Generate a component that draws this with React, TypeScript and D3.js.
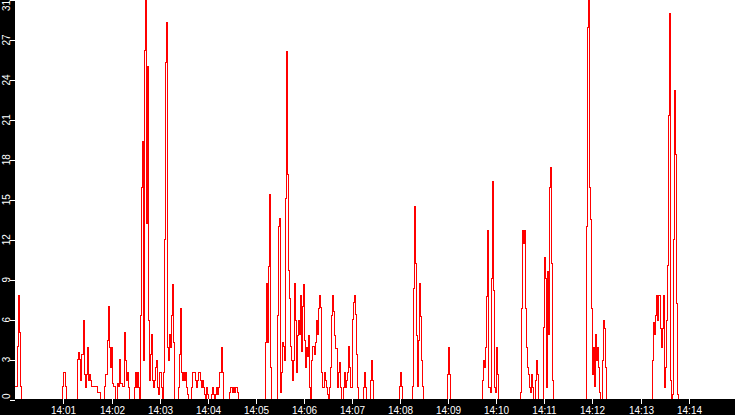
import React from "react";
import * as d3 from "d3";

const WIDTH = 735;
const HEIGHT = 415;

// Sampling: one value every 1.25 s, 14:00:00 to 14:15:00
const SAMPLE_SECONDS = 1.25;
const TOTAL_SAMPLES = 720;
const START_TIME = new Date(2020, 0, 1, 14, 0, 0);
const END_TIME = new Date(2020, 0, 1, 14, 15, 0);

// Bursts of activity: start sample index + values (everything else is 0)
const burstA = [1, 1, 4, 7.8, 5, 1];
const burstB = [1, 2, 2, 1];
const burstC = [3, 3.5, 3, 1.4, 3.4, 3.4, 5.9, 1.9, 0.9, 1.9, 3.9, 1.4, 1.9, 1.4, 1, 1, 1, 1, 1, 1, 0.5, 0.5, 0.5];
const burstD = [1, 1.9, 1.9, 4.4, 7, 3.9, 2.4, 3.9, 1.2, 1, 1, 0, 0, 1.2, 1, 3, 1.2, 1.2, 1, 1, 5, 2.9, 1.4, 2, 0.9];
const burstE = [
  0.9, 2, 0.9, 2, 0.9, 0, 6.3, 15.9, 19.4, 2.9, 26.2, 31, 13.2, 25, 5.9, 1.4, 3.4, 4.9, 1.4, 0.9,
  1.4, 2.4, 2.9, 0.9, 0.4, 2, 2, 0.9, 0, 2, 12, 25.3, 28.3, 3.9, 2.9, 4.9, 3.9, 6.3, 8.6, 4.3,
  0, 0, 0, 0, 0.9, 3.4, 6.8, 2, 1.4, 2, 1.4, 2, 0.9, 0.4, 0, 0, 0, 0.9, 2, 2,
  2, 1.4, 0.9, 1.4, 2, 2, 1.4, 0.9, 1.4, 0.9, 0.4, 0, 0.9, 0.4, 0, 0, 0, 0.4, 0.9, 0.4,
  0, 0.4, 0.9, 0.4, 0.9, 2, 2, 3.9, 2,
];
const burstF = [0.5, 0.9, 0.9, 0.5, 0.9, 0.5, 0.9, 0.9, 0.5];
const burstG = [4.3, 8.7, 4.3, 10, 15.4, 2.4];
const burstH = [
  6.3, 13, 13.6, 0.5, 2, 4.3, 4, 2.9, 15.1, 26.1, 16.9, 9.7, 7.6, 4, 2.9, 1.4, 2.9, 8.7, 5.9, 2,
  4.8, 5.9, 4.9, 7.8, 3.6, 7, 8.6, 4.4, 2.4, 3.9, 3.2, 4.8, 0.9, 0, 2.9, 4, 4, 3.4, 4.3, 5.9,
  4.9, 6.8, 7.8, 6.9, 2, 0.9, 0.9, 2, 1.4, 0.9, 0.4, 0, 0.9, 2.4, 6.3, 7.8, 6.6, 4.8, 3.8, 3.8,
  0.9, 2, 2.8, 0.9, 0, 0, 0.9, 2, 0.9, 1.4, 2, 4, 2.4, 0.9, 6, 7.3, 7.8, 6.4, 3.4, 0.9,
];
const burstI = [0.9, 2, 0.9];
const burstJ = [1.4, 2.9, 1.4];
const burstK = [1, 2, 1];
const burstL = [1, 8.3, 14.5, 10.2, 4.8, 1, 4.4, 8.7, 6.2, 2.9, 1];
const burstM = [1.9, 3.9, 1.9];
const burstN = [1.4, 2.9, 2.4, 3.9, 7.7, 12.7, 0.9, 0.9, 0.5, 9.1, 16.4, 8.2, 0.9, 0.5, 3.9, 1.9];
const burstO = [0.5, 6.8, 12.7, 11.7, 12.7, 6.8, 3.9, 2.4, 1.9, 0.9, 0.5, 1.9, 0.9, 0, 0, 1.4, 2.9, 1.9];
const burstP = [5.4, 10.7, 9.1, 0.9, 9.6, 4.9, 15.9, 17.4, 10.2, 1.4];
const burstQ = [13, 27.9, 31, 15.9, 13.5, 6.8, 1.9, 3.9, 1, 4.9, 2.9, 3.9, 2.4, 0.5, 0, 0, 2.9, 5.9, 5.3, 2.4];
const burstR = [2.9, 5.8, 4.9, 6.3, 7.8, 5.9, 7.8, 7.8, 5.3, 3.9, 5.3, 7.8, 0.9, 2.4, 5.9, 10.1, 21.3, 29, 1.4, 0, 0.4, 12, 23.2, 18.4, 7.2, 0.4];

const burstStarts = [0, 47, 62, 89, 119, 214, 250, 262, 347, 354, 383, 396, 431, 466, 504, 527, 570, 636];
const burstValues = [burstA, burstB, burstC, burstD, burstE, burstF, burstG, burstH, burstI, burstJ, burstK, burstL, burstM, burstN, burstO, burstP, burstQ, burstR];

const xTickLabels = ["14:01", "14:02", "14:03", "14:04", "14:05", "14:06", "14:07", "14:08", "14:09", "14:10", "14:11", "14:12", "14:13", "14:14"];
const yTickValues = [0, 3, 6, 9, 12, 15, 18, 21, 24, 27];

function buildSeries(): number[] {
  const s = new Array(TOTAL_SAMPLES).fill(0);
  burstStarts.forEach((start, k) => {
    burstValues[k].forEach((v, j) => {
      s[start + j] = v;
    });
  });
  return s;
}

export default function App() {
  const series = buildSeries();
  const plotLeft = 15;
  const plotBottom = 399;

  const x = d3.scaleTime().domain([START_TIME, END_TIME]).range([15.3, 736.8]);
  const y = d3.scaleLinear().domain([0, 30]).range([399.5, 0]);

  const timeOf = (i: number) => new Date(START_TIME.getTime() + i * SAMPLE_SECONDS * 1000);
  const pts = series.map((v, i) => [i, v] as [number, number]);
  pts.push([TOTAL_SAMPLES, 0]);
  const line = d3
    .line<[number, number]>()
    .x((d) => x(timeOf(d[0])))
    .y((d) => y(d[1]))
    .curve(d3.curveStepAfter);

  const maxVal = d3.max(series) ?? 0;
  const charW = 5.56;
  const yLabels = [...yTickValues.map((v) => ({ v, text: String(v) })), { v: maxVal, text: String(maxVal) }];

  const parseTick = (s: string) => {
    const [h, m] = s.split(":").map(Number);
    return new Date(2020, 0, 1, h, m, 0);
  };

  const font = "'Liberation Sans', Arial, sans-serif";

  return (
    <svg
      width={WIDTH}
      height={HEIGHT}
      style={{ position: "fixed", left: 0, top: 0, display: "block" }}
    >
      <defs>
        <clipPath id="plotclip">
          <rect x={plotLeft} y={0} width={WIDTH - plotLeft} height={plotBottom + 1} />
        </clipPath>
      </defs>
      <rect x={0} y={0} width={WIDTH} height={HEIGHT} fill="#ffffff" />
      <path
        d={line(pts) ?? ""}
        fill="none"
        stroke="#ff0000"
        strokeWidth={1}
        shapeRendering="crispEdges"
        clipPath="url(#plotclip)"
      />
      <rect x={0} y={0} width={plotLeft} height={HEIGHT} fill="#000000" />
      <rect x={0} y={plotBottom} width={WIDTH} height={HEIGHT - plotBottom} fill="#000000" />

      {yLabels.map(({ v, text }) => {
        const ty = Math.max(0, Math.round(y(v))) + 0.5;
        const w = text.length * charW;
        const cy = Math.min(Math.max(y(v), w / 2), plotBottom - w / 2);
        return (
          <g key={"y" + text}>
            <line x1={10} x2={15} y1={ty} y2={ty} stroke="#ffffff" strokeWidth={1} shapeRendering="crispEdges" />
            <text
              transform={`translate(10,${cy}) rotate(-90)`}
              textAnchor="middle"
              fill="#ffffff"
              fontFamily={font}
              fontSize={10}
            >
              {text}
            </text>
          </g>
        );
      })}

      {xTickLabels.map((lab) => {
        const px = Math.round(x(parseTick(lab))) + 0.5;
        return (
          <g key={lab}>
            <line x1={px} x2={px} y1={plotBottom} y2={plotBottom + 5} stroke="#ffffff" strokeWidth={1} shapeRendering="crispEdges" />
            <text x={px} y={414} textAnchor="middle" fill="#ffffff" fontFamily={font} fontSize={10}>
              {lab}
            </text>
          </g>
        );
      })}
    </svg>
  );
}
